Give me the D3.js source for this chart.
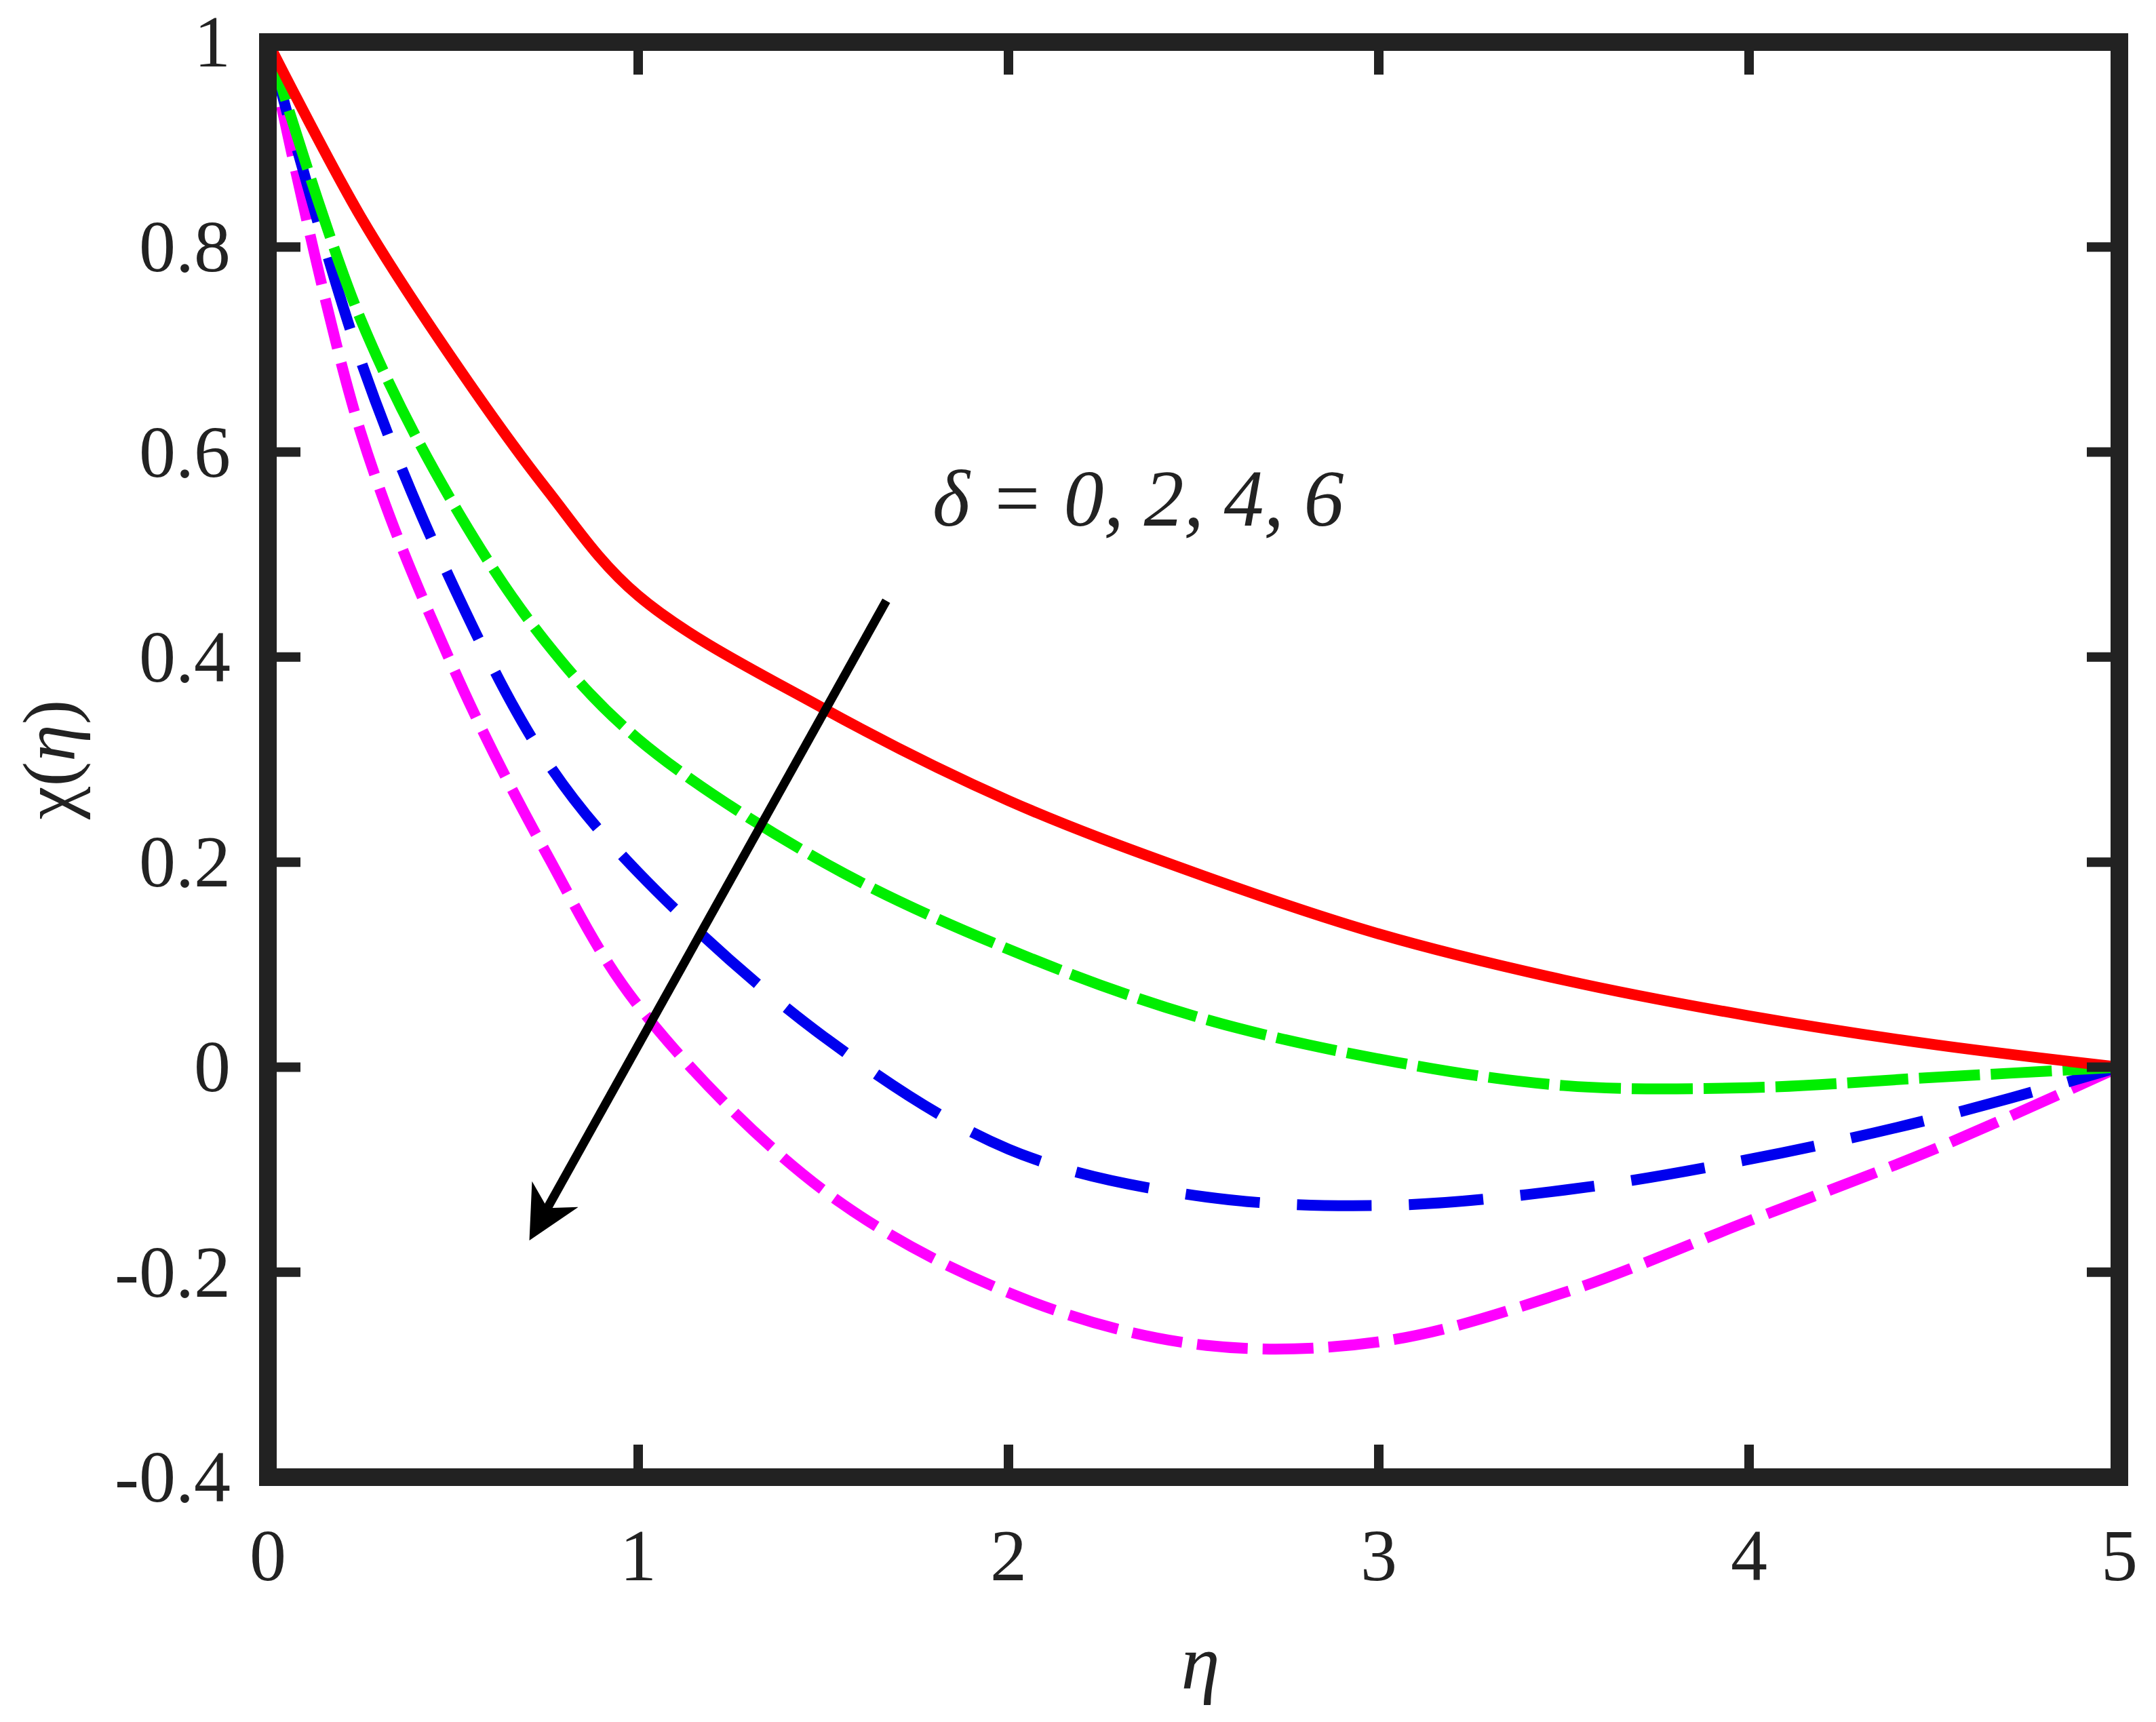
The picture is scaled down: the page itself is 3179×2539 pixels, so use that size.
<!DOCTYPE html>
<html><head><meta charset="utf-8">
<script src="https://cdn.jsdelivr.net/npm/d3@7"></script>
<style>body{margin:0;background:#fff}text{font-family:"Times New Roman","Liberation Serif",serif;fill:#222}</style>
</head><body><div id="chart"></div>
<script>
// values
const etaVals = [0, 0.25, 0.5, 0.75, 1, 1.5, 2, 2.5, 3, 3.5, 4, 4.5, 5];
const chiDelta0 = [1, 0.83, 0.69, 0.565, 0.46, 0.35, 0.26, 0.19, 0.13, 0.085, 0.05, 0.022, 0];
const chiDelta2 = [1, 0.73, 0.55, 0.415, 0.32, 0.2, 0.115, 0.05, 0.008, -0.018, -0.02, -0.01, 0];
const chiDelta4 = [1, 0.69, 0.47, 0.3, 0.19, 0.03, -0.08, -0.125, -0.135, -0.12, -0.09, -0.05, 0];
const chiDelta6 = [1, 0.62, 0.39, 0.21, 0.06, -0.12, -0.22, -0.27, -0.268, -0.22, -0.15, -0.08, 0];
const xTicks = [0, 1, 2, 3, 4, 5];
const yTicks = [-0.4, -0.2, 0, 0.2, 0.4, 0.6, 0.8, 1];

const W = 3179, H = 2539;
const m = {left: 395, right: 3125, top: 62, bottom: 2178};

let svg = d3.select('#chart').append('svg').attr('width', W).attr('height', H);

let x = d3.scaleLinear().domain([0, 5]).range([m.left, m.right]);
let y = d3.scaleLinear().domain([-0.4, 1]).range([m.bottom, m.top]);

let series = [
    {v: chiDelta0, color: '#ff0000', dash: null},
    {v: chiDelta2, color: '#00ee00', dash: '90,16'},
    {v: chiDelta4, color: '#0000ee', dash: '110,55'},
    {v: chiDelta6, color: '#ff00ff', dash: '75,22'}
];

let line = d3.line()
    .x((d, i) => x(etaVals[i]))
    .y(d => y(d))
    .curve(d3.curveCatmullRom.alpha(0.5));

svg.selectAll('path.curve')
    .data(series.slice().reverse())
    .enter().append('path')
    .attr('class', 'curve')
    .attr('d', d => line(d.v))
    .attr('fill', 'none')
    .attr('stroke', d => d.color)
    .attr('stroke-width', 16)
    .attr('stroke-dasharray', d => d.dash);

// ticks inward, all four sides
let tick = 48;
xTicks.forEach(t => {
    svg.append('line').attr('x1', x(t)).attr('x2', x(t)).attr('y1', m.bottom).attr('y2', m.bottom - tick)
        .attr('stroke', '#222').attr('stroke-width', 14);
    svg.append('line').attr('x1', x(t)).attr('x2', x(t)).attr('y1', m.top).attr('y2', m.top + tick)
        .attr('stroke', '#222').attr('stroke-width', 14);
    svg.append('text').attr('x', x(t)).attr('y', 2330).attr('text-anchor', 'middle')
        .attr('font-size', 108).text(t);
});
yTicks.forEach(t => {
    svg.append('line').attr('x1', m.left).attr('x2', m.left + tick).attr('y1', y(t)).attr('y2', y(t))
        .attr('stroke', '#222').attr('stroke-width', 14);
    svg.append('line').attr('x1', m.right).attr('x2', m.right - tick).attr('y1', y(t)).attr('y2', y(t))
        .attr('stroke', '#222').attr('stroke-width', 14);
    svg.append('text').attr('x', 340).attr('y', y(t) + 36).attr('text-anchor', 'end')
        .attr('font-size', 108).text(t);
});

svg.append('rect')
    .attr('x', m.left).attr('y', m.top)
    .attr('width', m.right - m.left).attr('height', m.bottom - m.top)
    .attr('fill', 'none').attr('stroke', '#222').attr('stroke-width', 26);

// axis titles
svg.append('text').attr('x', 1770).attr('y', 2490).attr('text-anchor', 'middle')
    .attr('font-size', 115).attr('font-style', 'italic').text('η');
svg.append('text').attr('transform', 'translate(110,1120) rotate(-90)').attr('text-anchor', 'middle')
    .attr('font-size', 110).html('χ(<tspan font-style="italic">η</tspan>)');

// annotation + arrow
svg.append('defs').append('marker').attr('id', 'ah')
    .attr('viewBox', '0 0 10 10').attr('refX', 8).attr('refY', 5)
    .attr('markerWidth', 6).attr('markerHeight', 6).attr('orient', 'auto')
    .append('path').attr('d', 'M0,0 L10,5 L0,10 L3,5 Z').attr('fill', '#000');
svg.append('line').attr('x1', x(1.67)).attr('y1', y(0.455)).attr('x2', x(0.72)).attr('y2', y(-0.16))
    .attr('stroke', '#000').attr('stroke-width', 13).attr('marker-end', 'url(#ah)');
svg.append('text').attr('x', 1375).attr('y', 775).attr('font-size', 118)
    .attr('font-style', 'italic').text('δ = 0, 2, 4, 6');
</script></body></html>
